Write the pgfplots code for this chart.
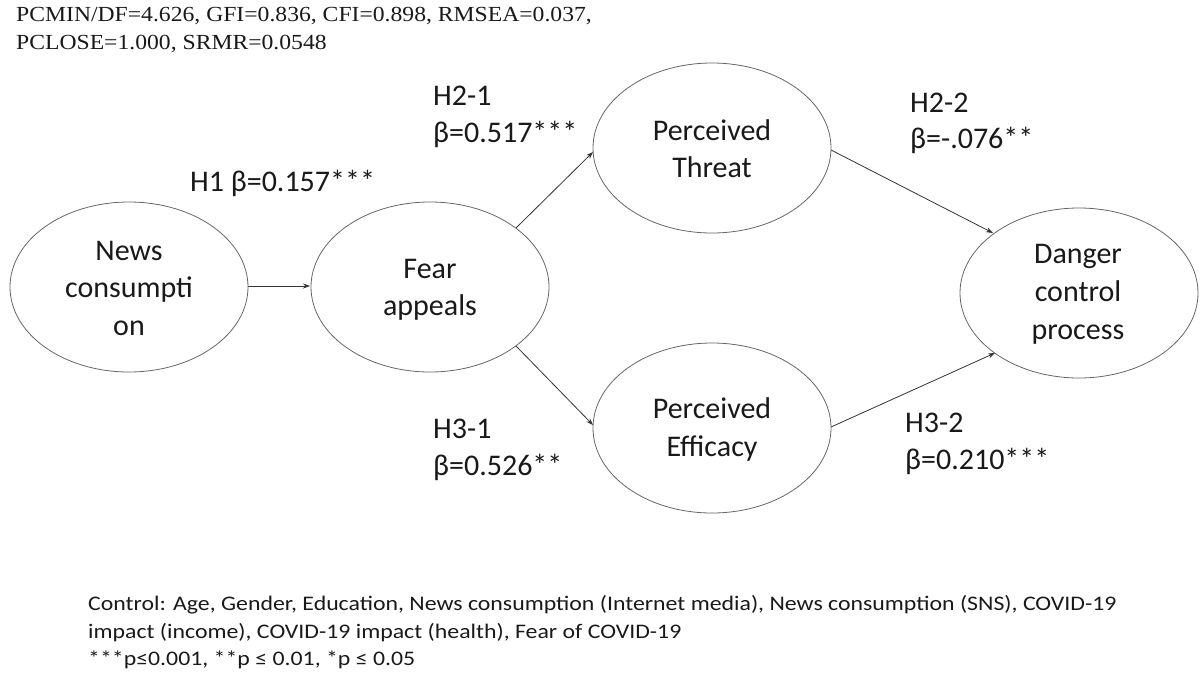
\documentclass[border=0pt]{standalone}
\usepackage{pgfplots}
\pgfplotsset{compat=1.18}
\usepackage{fontspec}
\setmainfont{Carlito}
\newfontfamily\timesf{Liberation Serif}
\usetikzlibrary{arrows.meta}
\begin{document}
\begin{tikzpicture}
\begin{axis}[
  width=1202pt, height=675pt, scale only axis,
  xmin=0, xmax=1202, ymin=0, ymax=675, y dir=reverse,
  axis lines=none, clip=false,
]
\pgfplotsset{arr/.style={no markers, line width=0.8pt, color=black!80, -{Stealth[length=7pt,width=5pt]}}}
% arrows (paths)
\addplot[arr] coordinates {(248,286) (310,286)};
\addplot[arr] coordinates {(516,228) (593,152)};
\addplot[arr] coordinates {(516,346) (593,425)};
\addplot[arr] coordinates {(831,150) (993,233)};
\addplot[arr] coordinates {(831,427) (995,353)};
% ellipses
\draw[black!60, line width=0.8pt] (axis cs:129,287) ellipse [x radius=119, y radius=85];
\draw[black!60, line width=0.8pt] (axis cs:430,287) ellipse [x radius=119, y radius=85];
\draw[black!60, line width=0.8pt] (axis cs:712,148) ellipse [x radius=119, y radius=85];
\draw[black!60, line width=0.8pt] (axis cs:712,428) ellipse [x radius=119, y radius=85];
\draw[black!60, line width=0.8pt] (axis cs:1079,293) ellipse [x radius=119, y radius=85];
% ellipse texts
\begin{scope}[every node/.style={anchor=base, inner sep=0pt, font=\fontsize{30}{36}\selectfont, text=black!90}]
\node at (axis cs:129,260) {News};
\node at (axis cs:129,297) {consumpti};
\node at (axis cs:129,335) {on};
\node at (axis cs:430,278) {Fear};
\node at (axis cs:430,315) {appeals};
\node at (axis cs:712,140) {Perceived};
\node at (axis cs:712,177) {Threat};
\node at (axis cs:712,418) {Perceived};
\node at (axis cs:712,456) {Efficacy};
\node at (axis cs:1078,263) {Danger};
\node at (axis cs:1078,301) {control};
\node at (axis cs:1078,339) {process};
\end{scope}
% path labels
\begin{scope}[every node/.style={anchor=base west, inner sep=0pt, font=\fontsize{30}{36}\selectfont, text=black!90}]
\node at (axis cs:190,191) {H1 β=0.157***};
\node at (axis cs:433,105) {H2-1};
\node at (axis cs:433,142) {β=0.517***};
\node at (axis cs:910,112) {H2-2};
\node at (axis cs:910,148) {β=-.076**};
\node at (axis cs:433,438) {H3-1};
\node at (axis cs:433,475) {β=0.526**};
\node at (axis cs:905,432) {H3-2};
\node at (axis cs:905,469) {β=0.210***};
\end{scope}
% fit indices
\begin{scope}[every node/.style={anchor=base west, inner sep=0pt, font=\timesf\fontsize{21.5}{24}\selectfont, text=black!90}]
\node at (axis cs:16,21) {\scalebox{1.1}[1]{PCMIN/DF=4.626, GFI=0.836, CFI=0.898, RMSEA=0.037,}};
\node at (axis cs:16,49) {\scalebox{1.1}[1]{PCLOSE=1.000, SRMR=0.0548}};
\end{scope}
% notes
\begin{scope}[every node/.style={anchor=base west, inner sep=0pt, font=\fontsize{20.7}{24}\selectfont, text=black!90}]
\node at (axis cs:88,610) {\scalebox{1.15}[1]{Control: Age, Gender, Education, News consumption (Internet media), News consumption (SNS), COVID-19}};
\node at (axis cs:88,638) {\scalebox{1.15}[1]{impact (income), COVID-19 impact (health), Fear of COVID-19}};
\node at (axis cs:88,665) {\scalebox{1.15}[1]{***p≤0.001, **p ≤ 0.01, *p ≤ 0.05}};
\end{scope}
\end{axis}
\pgfresetboundingbox
\useasboundingbox (current axis.south west) rectangle (current axis.north east);
\end{tikzpicture}
\end{document}
